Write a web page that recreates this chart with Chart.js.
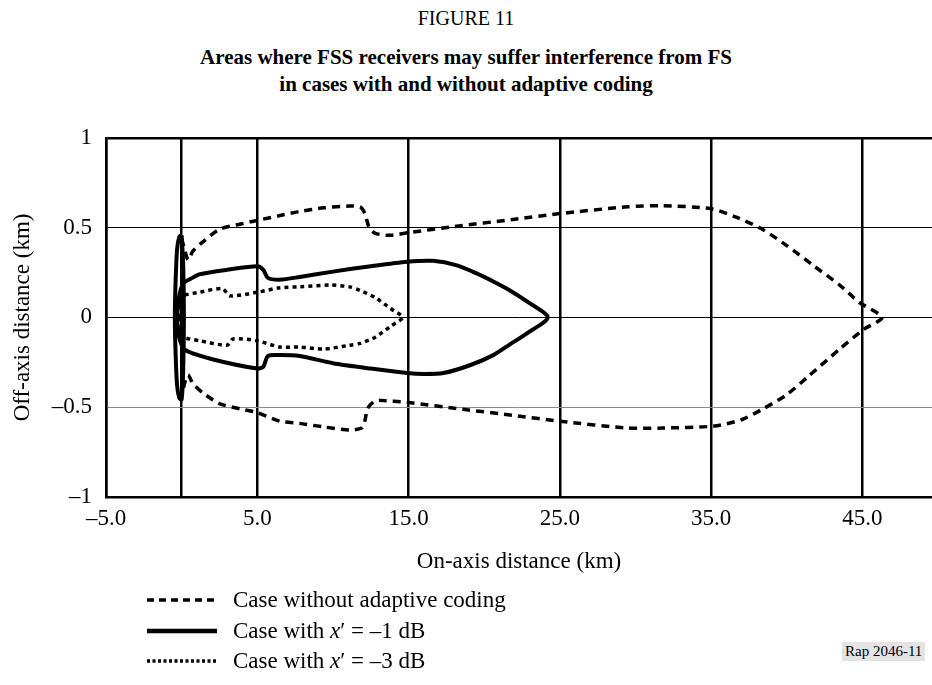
<!DOCTYPE html>
<html lang="en">
<head>
<meta charset="UTF-8">
<title>Figure 11</title>
<script src="https://cdn.jsdelivr.net/npm/chart.js"></script>
<style>
    body {
        margin: 0;
        width: 932px;
        height: 685px;
        background: #fff;
        color: #000;
        font-family: "Liberation Serif", "Times New Roman", serif;
        position: relative;
        overflow: hidden;
    }
    .fig {
        position: absolute;
        left: 0;
        width: 932px;
        text-align: center;
    }
    #fignum { top: 7px; font-size: 20px; }
    #figtitle { top: 44px; font-size: 21px; font-weight: bold; line-height: 27px; }
    #wrap { position: absolute; left: 0; top: 110px; }
    .legend { position: absolute; left: 147px; top: 585px; font-size: 23px; }
    .row { height: 30.5px; display: flex; align-items: center; }
    .row svg { width: 70px; height: 10px; margin-right: 16px; }
    #rap {
        position: absolute;
        left: 842px;
        top: 642px;
        font-size: 15px;
        background: #e4e4e4;
        padding: 1px 3px;
    }
</style>
</head>
<body>
    <div class="fig" id="fignum">FIGURE 11</div>
    <div class="fig" id="figtitle">Areas where FSS receivers may suffer interference from FS<br>in cases with and without adaptive coding</div>

    <div id="wrap"><canvas id="chart" width="932" height="480"></canvas></div>

    <div class="legend">
        <div class="row"><svg><line x1="0" y1="5" x2="70" y2="5" stroke="#000" stroke-width="3.5" stroke-dasharray="7 5"/></svg>Case without adaptive coding</div>
        <div class="row"><svg><line x1="0" y1="5" x2="70" y2="5" stroke="#000" stroke-width="4.5"/></svg>Case with&nbsp;<i>x</i>′ = –1 dB</div>
        <div class="row"><svg><line x1="0" y1="5" x2="70" y2="5" stroke="#000" stroke-width="3.5" stroke-dasharray="3 2.5"/></svg>Case with&nbsp;<i>x</i>′ = –3 dB</div>
    </div>
    <div id="rap">Rap 2046-11</div>

<script>
    // axis ticks
    const xTickValues = [-5, 0, 5, 15, 25, 35, 45];
    const yTickValues = [-1, -0.5, 0, 0.5, 1];

    // case without adaptive coding (upper branch out to the tip, then lower branch back)
    const noAdaptX = [0.0, 0.22, 0.43, 0.75, 1.4, 2.5, 3.9, 5.0, 6.5, 7.8, 9.4, 11.1, 11.8, 12.1, 12.4, 12.8, 13.8, 15.1, 18.0, 21.9, 25.0, 29.5, 31.8, 35.0, 36.6, 38.3, 40.0, 41.8, 43.5, 44.8, 46.3,
                      45.1, 43.5, 41.4, 40.0, 38.5, 37.0, 35.2, 31.8, 29.5, 25.0, 21.9, 18.6, 14.9, 13.1, 12.7, 12.3, 12.1, 11.9, 11.1, 9.4, 7.8, 6.5, 5.0, 3.9, 2.5, 1.4, 0.75, 0.43, 0.22, 0.0];
    const noAdaptY = [0.44, 0.37, 0.32, 0.37, 0.42, 0.49, 0.52, 0.54, 0.567, 0.59, 0.61, 0.62, 0.615, 0.58, 0.50, 0.468, 0.457, 0.473, 0.506, 0.545, 0.578, 0.616, 0.622, 0.605, 0.56, 0.495, 0.40, 0.286, 0.18, 0.083, 0.0,
                      -0.066, -0.176, -0.33, -0.43, -0.506, -0.57, -0.605, -0.616, -0.616, -0.578, -0.545, -0.512, -0.473, -0.462, -0.47, -0.506, -0.58, -0.616, -0.627, -0.61, -0.59, -0.578, -0.53, -0.51, -0.48, -0.42, -0.37, -0.32, -0.36, -0.44];

    // case with x' = -1 dB
    const oneDbX = [-0.3, -0.2, 0.1, 0.6, 1.2, 3.0, 5.0, 5.4, 5.7, 6.5, 7.8, 10.0, 12.5, 14.9, 16.6, 18.2, 19.5, 20.6, 21.7, 22.8, 24.2,
                    22.8, 21.7, 20.6, 19.1, 17.3, 16.0, 14.9, 12.5, 10.0, 7.8, 6.5, 5.7, 5.4, 5.0, 1.9, 0.2, -0.2, -0.3];
    const oneDbY = [0.0, 0.1, 0.19, 0.215, 0.24, 0.265, 0.285, 0.265, 0.22, 0.21, 0.225, 0.255, 0.285, 0.31, 0.315, 0.29, 0.245, 0.20, 0.15, 0.09, 0.0,
                    -0.09, -0.15, -0.21, -0.265, -0.31, -0.315, -0.31, -0.285, -0.255, -0.215, -0.21, -0.215, -0.275, -0.285, -0.23, -0.18, -0.1, 0.0];

    // case with x' = -3 dB
    const threeDbX = [-0.2, -0.05, 0.1, 1.2, 2.7, 3.2, 5.0, 6.5, 7.8, 9.8, 11.1, 11.8, 12.8, 13.8, 14.6,
                      13.8, 12.8, 11.8, 11.1, 9.4, 7.8, 6.5, 5.0, 3.4, 3.0, 1.2, 0.1, -0.05, -0.2];
    const threeDbY = [0.0, 0.08, 0.12, 0.14, 0.16, 0.12, 0.14, 0.165, 0.17, 0.18, 0.17, 0.15, 0.11, 0.05, 0.0,
                      -0.05, -0.11, -0.145, -0.155, -0.176, -0.165, -0.165, -0.13, -0.12, -0.155, -0.13, -0.11, -0.08, 0.0];

    // near-field loop around the origin where the contours close
    const loopX = [0.0, -0.15, -0.3, -0.4, -0.45, -0.4, -0.3, -0.15, 0.0, 0.1, 0.15, 0.1, 0.0];
    const loopY = [0.457, 0.45, 0.38, 0.2, 0.0, -0.2, -0.38, -0.45, -0.457, -0.3, 0.0, 0.3, 0.457];

    const serif = '"Liberation Serif", "Times New Roman", serif';
    const fmt = s => String(s).replace('-', '–');
    const pts = (xs, ys) => xs.map((x, i) => ({ x: x, y: ys[i] }));

    const line = (label, xs, ys, width, dash) => ({
        label: label,
        data: pts(xs, ys),
        showLine: true,
        borderColor: '#000',
        backgroundColor: '#000',
        borderWidth: width,
        borderDash: dash,
        pointRadius: 0,
        tension: 0.25,
        fill: false
    });

    new Chart(document.getElementById('chart'), {
        type: 'scatter',
        data: {
            datasets: [
                line('Case without adaptive coding', noAdaptX, noAdaptY, 3.5, [8, 6]),
                line("Case with x' = -1 dB", oneDbX, oneDbY, 4, []),
                line("Case with x' = -3 dB", threeDbX, threeDbY, 3.5, [4, 4]),
                line('near field', loopX, loopY, 4, [])
            ]
        },
        options: {
            responsive: false,
            animation: false,
            layout: { padding: { top: 23, right: 0, left: 0, bottom: 0 } },
            plugins: {
                legend: { display: false },
                tooltip: { enabled: false }
            },
            scales: {
                x: {
                    type: 'linear',
                    min: -5,
                    max: 49.6,
                    afterBuildTicks: s => { s.ticks = xTickValues.map(v => ({ value: v })); },
                    afterFit: s => { s.height = 93; },
                    ticks: {
                        callback: v => v === 0 ? '' : fmt(v.toFixed(1)),
                        color: '#000',
                        font: { family: serif, size: 23 },
                        padding: 8,
                        maxRotation: 0,
                        autoSkip: false
                    },
                    grid: { color: '#000', lineWidth: 2.5, drawTicks: false },
                    border: { display: true, color: '#000', width: 2.5 },
                    title: {
                        display: true,
                        text: 'On-axis distance (km)',
                        color: '#000',
                        font: { family: serif, size: 23 },
                        padding: { top: 0, bottom: 14 }
                    }
                },
                y: {
                    min: -1,
                    max: 1,
                    afterBuildTicks: s => { s.ticks = yTickValues.map(v => ({ value: v })); },
                    afterFit: s => { s.width = 106; },
                    ticks: {
                        callback: v => fmt(v),
                        color: '#000',
                        font: { family: serif, size: 23 },
                        padding: 14
                    },
                    grid: {
                        color: c => (c.tick && c.tick.value === -0.5) ? '#8a8a8a' : '#000',
                        lineWidth: c => (c.tick && c.tick.value === 1) ? 2.5 : 1,
                        drawTicks: false
                    },
                    border: { display: true, color: '#000', width: 2.5 },
                    title: {
                        display: true,
                        text: 'Off-axis distance (km)',
                        color: '#000',
                        font: { family: serif, size: 23 },
                        padding: { top: 9, bottom: 0 }
                    }
                }
            }
        }
    });
</script>
</body>
</html>
